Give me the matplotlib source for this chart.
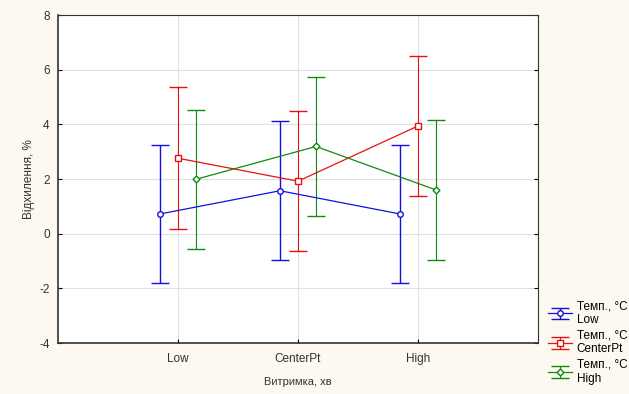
import numpy as np
import matplotlib.pyplot as plt

plt.rcParams['font.family'] = ['Liberation Sans', 'DejaVu Sans']
plt.rcParams['axes.unicode_minus'] = False

levels = ['Low', 'CenterPt', 'High']
series = ['Low', 'CenterPt', 'High']
means = {
    'Low': [0.72, 1.57, 0.72],
    'CenterPt': [2.76, 1.92, 3.94],
    'High': [1.99, 3.19, 1.60],
}
errs = {
    'Low': [2.52, 2.55, 2.52],
    'CenterPt': [2.6, 2.55, 2.55],
    'High': [2.54, 2.54, 2.55],
}
colors = {'Low': '#1010e0', 'CenterPt': '#e81010', 'High': '#108a10'}
markers = {'Low': 'o', 'CenterPt': 's', 'High': 'D'}
offsets = {'Low': -0.15, 'CenterPt': 0.0, 'High': 0.15}

fig = plt.figure(figsize=(6.29, 3.94), dpi=100)
fig.patch.set_facecolor('#fdf8f0')
ax = fig.add_axes([58 / 629, 1 - 343 / 394, 480 / 629, 328 / 394])
ax.set_facecolor('white')

x = np.arange(1, len(levels) + 1)
for s in series:
    ax.errorbar(x + offsets[s], means[s], yerr=errs[s], color=colors[s],
                marker=markers[s], markersize=4 if s != 'High' else 3.5,
                markerfacecolor='white', markeredgecolor=colors[s],
                capsize=6.5, elinewidth=1.0 if s == 'Low' else 0.8,
                linewidth=0.9, label='Темп., °C\n' + s)

ax.set_xlim(0, 4)
ax.set_ylim(-4, 8)
ax.set_xticks(x)
ax.set_xticklabels(levels, fontsize=8.5, color='#333333')
ax.set_yticks(np.arange(-4, 9, 2))
ax.tick_params(axis='y', labelsize=8.5, labelcolor='#333333', length=3, right=True, direction='in', pad=6)
ax.tick_params(axis='x', length=3, direction='in', top=False, pad=7)
ax.grid(True, color='#e0e0e0', linewidth=0.8)
ax.set_axisbelow(True)
for sp in ax.spines.values():
    sp.set_color('#333333')
    sp.set_linewidth(0.8)
ax.spines['left'].set_linewidth(1.2)
ax.spines['bottom'].set_linewidth(1.2)

ax.set_xlabel('Витримка, хв', fontsize=8, color='#333333', labelpad=9)
ax.set_ylabel('Відхилення, %', fontsize=8.5, color='#333333', labelpad=3)

leg = ax.legend(loc='upper left', bbox_to_anchor=(1.012, 0.145), fontsize=8.5,
                frameon=False, handlelength=2.0, labelspacing=0.3,
                handletextpad=0.4, borderaxespad=0)
for t in leg.get_texts():
    t.set_linespacing(1.2)

fig.savefig('out.png', dpi=100, facecolor=fig.get_facecolor())
